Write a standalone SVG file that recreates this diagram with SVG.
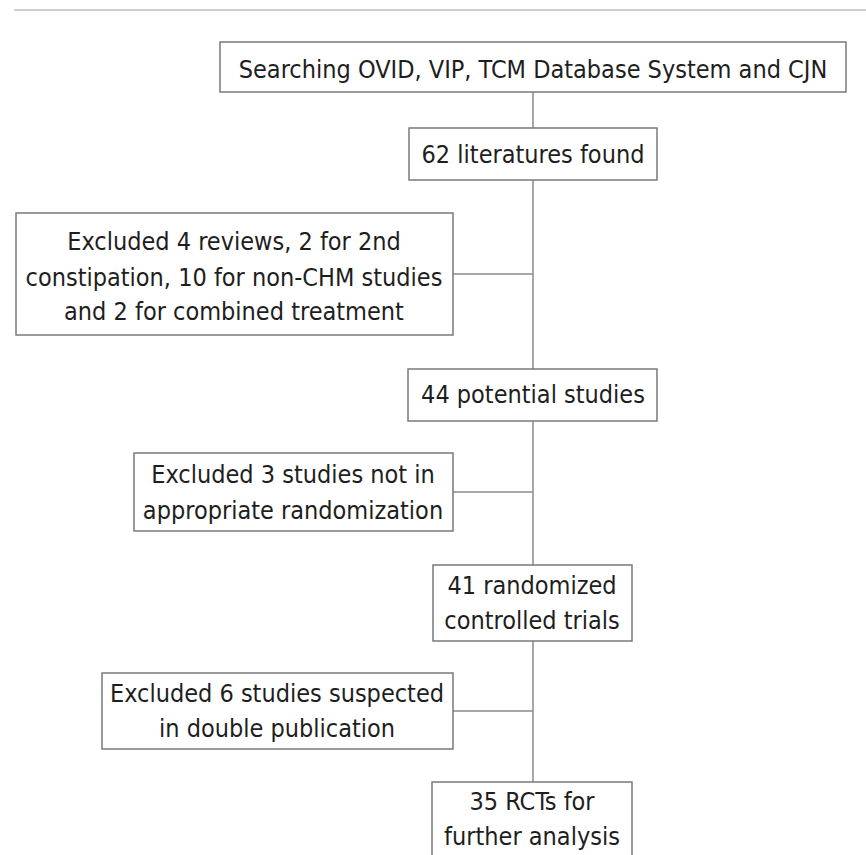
<svg xmlns="http://www.w3.org/2000/svg" width="866" height="855" viewBox="0 0 866 855">
<style>
.box{fill:#fff;stroke:#7a7a7a;stroke-width:1.5}
.t{font-family:"DejaVu Sans Condensed","DejaVu Sans",sans-serif;font-stretch:condensed;font-size:25px;fill:#1e1e1e;text-anchor:middle}
.c{stroke:#8a8a8a;stroke-width:1.5;fill:none}
</style>
<rect width="866" height="855" fill="#fff"/>
<line x1="14" y1="10" x2="866" y2="10" stroke="#cfcfcf" stroke-width="2"/>
<g id="connectors">
<line class="c" x1="533" y1="92" x2="533" y2="855"/>
<line class="c" x1="453" y1="274" x2="533" y2="274"/>
<line class="c" x1="453" y1="492" x2="533" y2="492"/>
<line class="c" x1="453" y1="711" x2="533" y2="711"/>
</g>
<g id="n1"><rect class="box" x="220" y="42" width="626" height="50"/><text class="t" x="533" y="78">Searching OVID, VIP, TCM Database System and CJN</text></g>
<g id="n2"><rect class="box" x="409" y="128" width="248" height="52"/><text class="t" x="533" y="163">62 literatures found</text></g>
<g id="n3"><rect class="box" x="16" y="213" width="437" height="122"/><text class="t" x="234" y="250">Excluded 4 reviews, 2 for 2nd</text><text class="t" x="234" y="286">constipation, 10 for non-CHM studies</text><text class="t" x="234" y="320">and 2 for combined treatment</text></g>
<g id="n4"><rect class="box" x="408" y="369" width="249" height="52"/><text class="t" x="533" y="403">44 potential studies</text></g>
<g id="n5"><rect class="box" x="134" y="453" width="319" height="78"/><text class="t" x="293" y="483">Excluded 3 studies not in</text><text class="t" x="293" y="519">appropriate randomization</text></g>
<g id="n6"><rect class="box" x="433" y="565" width="199" height="76"/><text class="t" x="532" y="594">41 randomized</text><text class="t" x="532" y="629">controlled trials</text></g>
<g id="n7"><rect class="box" x="102" y="673" width="351" height="76"/><text class="t" x="277" y="702">Excluded 6 studies suspected</text><text class="t" x="277" y="737">in double publication</text></g>
<g id="n8"><rect class="box" x="432" y="782" width="200" height="90"/><text class="t" x="532" y="810">35 RCTs for</text><text class="t" x="532" y="845">further analysis</text></g>
</svg>
